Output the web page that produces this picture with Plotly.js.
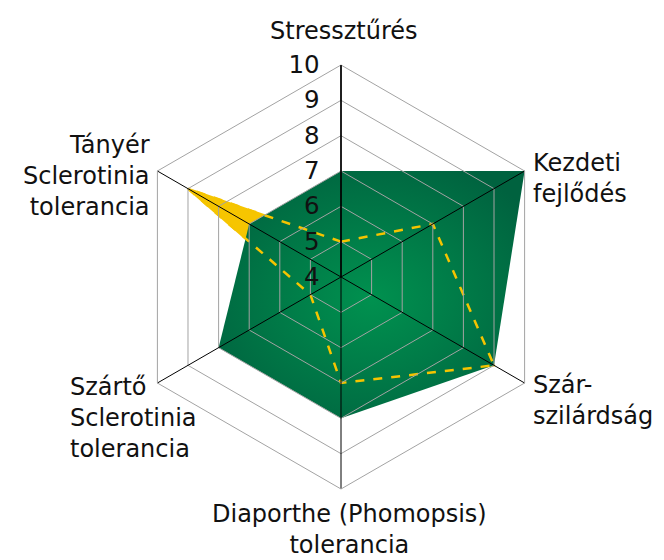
<!DOCTYPE html>
<html>
<head>
<meta charset="utf-8">
<script src="https://cdn.plot.ly/plotly-3.0.1.min.js"></script>
<style>html,body{margin:0;padding:0;background:#fff;}</style>
</head>
<body>
<div id="chart" style="width:664px;height:560px;"></div>
<script>
const categories = [
  "Stressztűrés",
  "Kezdeti<br>fejlődés",
  "Szár-<br>szilárdság",
  "Diaporthe (Phomopsis)<br>tolerancia",
  "Szártő<br>Sclerotinia<br>tolerancia",
  "Tányér<br>Sclerotinia<br>tolerancia"
];
const greenValues = [7, 10, 9, 8, 8, 7];
const yellowValues = [5, 7, 9, 7, 5, 9];
const radialTicks = [4, 5, 6, 7, 8, 9, 10];

const closeLoop = a => a.concat([a[0]]);
const FONT = "DejaVu Sans, sans-serif";
const FS = 24;

const traces = [
  {
    type: "scatterpolar",
    r: closeLoop(yellowValues),
    theta: closeLoop(categories),
    fill: "toself",
    fillcolor: "#f6c500",
    line: {width: 2, color: "#f6c500"},
    mode: "lines",
    hoverinfo: "skip"
  },
  {
    type: "scatterpolar",
    r: closeLoop(greenValues),
    theta: closeLoop(categories),
    fill: "toself",
    fillcolor: "#007a47",
    line: {width: 0, color: "#007a47"},
    mode: "lines",
    hoverinfo: "skip"
  },
  {
    type: "scatterpolar",
    r: closeLoop(yellowValues),
    theta: closeLoop(categories),
    fill: "none",
    line: {width: 2.5, color: "#f5c400", dash: "dash"},
    mode: "lines",
    hoverinfo: "skip"
  }
];

// label placement (pixel positions of the category captions)
const labelPos = [
  {px: 344, py: 31, xanchor: "center", align: "center"},
  {px: 531, py: 178, xanchor: "left", align: "left"},
  {px: 531, py: 400, xanchor: "left", align: "left"},
  {px: 349, py: 529, xanchor: "center", align: "center"},
  {px: 68, py: 418, xanchor: "left", align: "left"},
  {px: 152, py: 176, xanchor: "right", align: "right"}
];
const M = {l: 129, r: 111, t: 65, b: 71};
const PW = 664 - M.l - M.r, PH = 560 - M.t - M.b;

const annotations = categories.map((c, i) => ({
  text: c,
  xref: "paper", yref: "paper",
  x: (labelPos[i].px - M.l) / PW,
  y: (560 - M.b - labelPos[i].py) / PH,
  xanchor: labelPos[i].xanchor,
  yanchor: "middle",
  align: labelPos[i].align,
  showarrow: false,
  font: {family: FONT, size: FS, color: "#111"}
}));

const layout = {
  width: 664,
  height: 560,
  margin: M,
  paper_bgcolor: "#ffffff",
  showlegend: false,
  font: {family: FONT, size: FS, color: "#111"},
  annotations: annotations,
  polar: {
    domain: {x: [0, 1], y: [0, 1]},
    gridshape: "linear",
    bgcolor: "#ffffff",
    radialaxis: {
      range: [4, 10],
      tickvals: radialTicks,
      ticktext: radialTicks.map(String),
      angle: 90,
      tickangle: 90,
      side: "counterclockwise",
      showline: true,
      linecolor: "#000",
      linewidth: 1.5,
      gridcolor: "#a3a3a3",
      gridwidth: 1,
      ticks: "outside",
      ticklen: 12,
      tickcolor: "rgba(0,0,0,0)",
      tickfont: {family: FONT, size: 24.5, color: "#111"}
    },
    angularaxis: {
      rotation: 90,
      direction: "clockwise",
      showline: true,
      linecolor: "#a3a3a3",
      linewidth: 1,
      gridcolor: "#000",
      gridwidth: 1,
      ticks: "",
      showticklabels: false
    }
  }
};

Plotly.newPlot("chart", traces, layout, {displayModeBar: false, staticPlot: true}).then(gd => {
  const polar = gd.querySelector(".polarlayer .polar");
  if (!polar) return;
  const front = polar.querySelector(".frontplot");
  ["angular-grid", "radial-grid"].forEach(cls => {
    const g = polar.querySelector("." + cls);
    if (g && front) front.parentNode.insertBefore(g, front.nextSibling);
  });
  // radial gradient for the green area
  const NS = "http://www.w3.org/2000/svg";
  const svg = gd.querySelector(".main-svg");
  let defs = svg.querySelector("defs");
  if (!defs) { defs = document.createElementNS(NS, "defs"); svg.insertBefore(defs, svg.firstChild); }
  const grad = document.createElementNS(NS, "radialGradient");
  grad.setAttribute("id", "greenGrad");
  grad.setAttribute("cx", "0.5"); grad.setAttribute("cy", "0.52"); grad.setAttribute("r", "0.62");
  [["0", "#00914f"], ["1", "#00623f"]].forEach(([o, c]) => {
    const s = document.createElementNS(NS, "stop");
    s.setAttribute("offset", o); s.setAttribute("stop-color", c);
    grad.appendChild(s);
  });
  defs.appendChild(grad);
  const tr = polar.querySelectorAll(".frontplot .trace");
  if (tr[1]) {
    const fp = tr[1].querySelector("path.js-fill");
    if (fp) fp.style.fill = "url(#greenGrad)";
  }
});
</script>
</body>
</html>
